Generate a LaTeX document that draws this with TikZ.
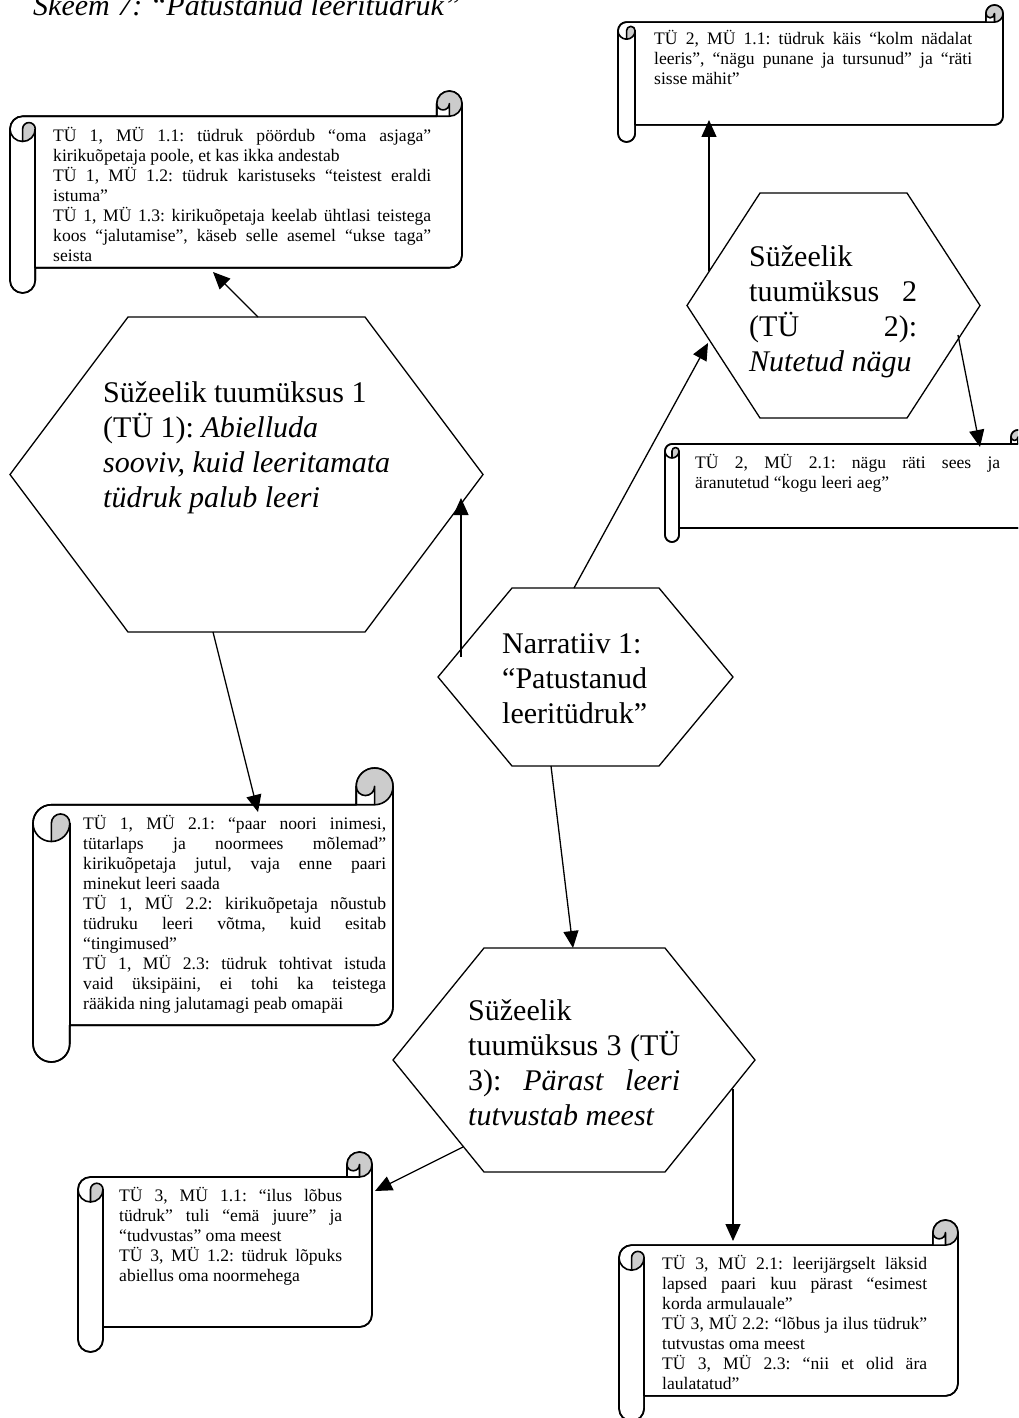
\documentclass[tikz,border=0pt]{standalone}
\usepackage{fontspec}
\setmainfont{Liberation Serif}
\usetikzlibrary{arrows.meta}
\definecolor{curlgray}{RGB}{204,204,204}
\hyphenpenalty=10000
\exhyphenpenalty=10000
\frenchspacing

% Horizontal scroll: #1 left, #2 top, #3 right, #4 bottom (y measured downwards), #5 curl size
\newcommand{\hscroll}[5]{%
  \pgfmathsetmacro{\sL}{#1}\pgfmathsetmacro{\sT}{-(#2)}%
  \pgfmathsetmacro{\sR}{#3}\pgfmathsetmacro{\sB}{-(#4)}%
  \pgfmathsetmacro{\sc}{#5}\pgfmathsetmacro{\sh}{(#5)/2}\pgfmathsetmacro{\sq}{(#5)/4}%
  % sheet, left roll and top of the right curl
  \filldraw[scrollline,fill=white]
    (\sL,\sT-1.5*\sc) arc[start angle=180,end angle=90,radius=\sh pt]
    -- (\sR-\sc,\sT-\sc) -- (\sR-\sc,\sT-\sh) arc[start angle=180,end angle=0,radius=\sh pt]
    -- (\sR,\sB+1.5*\sc) arc[start angle=0,end angle=-90,radius=\sh pt]
    -- (\sL+\sc,\sB+\sc) -- (\sL+\sc,\sB+\sh) arc[start angle=0,end angle=-180,radius=\sh pt]
    -- cycle;
  % shaded insides of the two curls
  \fill[curlgray] (\sL+\sh,\sT-2*\sc) arc[start angle=-90,end angle=0,radius=\sh pt]
    arc[start angle=0,end angle=180,radius=\sq pt] -- cycle;
  \fill[curlgray] (\sR-\sh,\sT-\sc) arc[start angle=-90,end angle=180,radius=\sh pt]
    arc[start angle=180,end angle=360,radius=\sq pt] -- cycle;
  % outline and curl details
  \draw[scrollline]
    (\sL,\sT-1.5*\sc) arc[start angle=180,end angle=90,radius=\sh pt]
    -- (\sR-\sc,\sT-\sc) -- (\sR-\sc,\sT-\sh) arc[start angle=180,end angle=0,radius=\sh pt]
    -- (\sR,\sB+1.5*\sc) arc[start angle=0,end angle=-90,radius=\sh pt]
    -- (\sL+\sc,\sB+\sc) -- (\sL+\sc,\sB+\sh) arc[start angle=0,end angle=-180,radius=\sh pt]
    -- cycle;
  \draw[scrollline] (\sR-\sc,\sT-\sc) -- (\sR-\sh,\sT-\sc) arc[start angle=-90,end angle=0,radius=\sh pt];
  \draw[scrollline] (\sR-\sh,\sT-\sc) -- (\sR-\sh,\sT-\sh) arc[start angle=0,end angle=-180,radius=\sq pt];
  \draw[scrollline] (\sL+\sh,\sT-2*\sc) -- (\sL+\sh,\sT-1.5*\sc)
    arc[start angle=180,end angle=0,radius=\sq pt] arc[start angle=0,end angle=-180,radius=\sh pt];
  \draw[scrollline] (\sL+\sc,\sT-1.5*\sc) -- (\sL+\sc,\sB+\sc);
}

\begin{document}
\begin{tikzpicture}[x=1pt,y=1pt,
  scrollline/.style={line width=1.6pt,line join=round},
  hexline/.style={line width=1.3pt,fill=white},
  conn/.style={line width=1.3pt,-{Triangle[length=17pt,width=15pt]}},
  scrolltext/.style={anchor=base west,inner sep=0pt,align=justify,
    font=\fontsize{17.6}{20}\selectfont},
  hextext/.style={anchor=base west,inner sep=0pt,
    font=\fontsize{30}{35}\selectfont}]

\useasboundingbox (0,0) rectangle (1018,-1418);
\clip (0,0) rectangle (1018,-1418);

% title
\node[anchor=base west,inner sep=0pt,font=\fontsize{30}{35}\selectfont\itshape]
  (title) at (33,-16) {Skeem 7: “Patustanud leeritüdruk”};

% scrolls
\hscroll{10}{91}{462}{293}{25.25}
\hscroll{618}{5}{1003}{142}{17.1}
\hscroll{665}{430}{1025}{542}{14}
\hscroll{33}{768}{393}{1062}{36.75}
\hscroll{78}{1152}{372}{1352}{25}
\hscroll{619}{1220}{958}{1421}{25.1}

\node[scrolltext,text width=378pt] (tA) at (53,-141.5)
  {TÜ 1, MÜ 1.1: tüdruk pöördub “oma asjaga”\linebreak kirikuõpetaja poole, et kas ikka andestab\par
   TÜ 1, MÜ 1.2: tüdruk karistuseks “teistest eraldi\linebreak istuma”\par
   TÜ 1, MÜ 1.3: kirikuõpetaja keelab ühtlasi teistega\linebreak koos “jalutamise”, käseb selle asemel “ukse taga”\linebreak seista};

\node[scrolltext,text width=318pt] (tB) at (654,-45)
  {TÜ 2, MÜ 1.1: tüdruk käis “kolm nädalat\linebreak leeris”, “nägu punane ja tursunud” ja “räti\linebreak sisse mähit”};

\node[scrolltext,text width=305pt] (tC) at (695,-468)
  {TÜ 2, MÜ 2.1: nägu räti sees ja\linebreak äranutetud “kogu leeri aeg”};

\node[scrolltext,text width=303pt] (tD) at (83,-829)
  {TÜ 1, MÜ 2.1: “paar noori inimesi,\linebreak tütarlaps ja noormees mõlemad”\linebreak kirikuõpetaja jutul, vaja enne paari\linebreak minekut leeri saada\par
   TÜ 1, MÜ 2.2: kirikuõpetaja nõustub\linebreak tüdruku leeri võtma, kuid esitab\linebreak “tingimused”\par
   TÜ 1, MÜ 2.3: tüdruk tohtivat istuda\linebreak vaid üksipäini, ei tohi ka teistega\linebreak rääkida ning jalutamagi peab omapäi};

\node[scrolltext,text width=223pt] (tE) at (119,-1201)
  {TÜ 3, MÜ 1.1: “ilus lõbus\linebreak tüdruk” tuli “emä juure” ja\linebreak “tudvustas” oma meest\par
   TÜ 3, MÜ 1.2: tüdruk lõpuks\linebreak abiellus oma noormehega};

\node[scrolltext,text width=265pt] (tF) at (662,-1269)
  {TÜ 3, MÜ 2.1: leerijärgselt läksid\linebreak lapsed paari kuu pärast “esimest\linebreak korda armulauale”\par
   TÜ 3, MÜ 2.2: “lõbus ja ilus tüdruk”\linebreak tutvustas oma meest\par
   TÜ 3, MÜ 2.3: “nii et olid ära\linebreak laulatatud”};

% hexagons
\draw[hexline] (10,-474.5) -- (128,-317) -- (365,-317) -- (483,-474.5) -- (365,-632) -- (128,-632) -- cycle;
\draw[hexline] (687,-305.5) -- (760,-193) -- (907,-193) -- (980,-305.5) -- (907,-418) -- (760,-418) -- cycle;
\draw[hexline] (393,-1060) -- (484,-948) -- (665,-948) -- (755,-1060) -- (665,-1172) -- (484,-1172) -- cycle;
\draw[hexline] (438,-677) -- (512,-588) -- (659,-588) -- (733,-677) -- (659,-766) -- (512,-766) -- cycle;

\node[hextext,text width=300pt,align=justify] (tH1) at (103,-402)
  {Süžeelik tuumüksus 1\par (TÜ 1): \textit{Abielluda}\par \textit{sooviv, kuid leeritamata}\par \textit{tüdruk palub leeri}};
\node[hextext,text width=168pt,align=justify] (tH2) at (749,-266)
  {Süžeelik\linebreak tuumüksus 2\linebreak (TÜ 2):\linebreak \textit{Nutetud nägu}};
\node[hextext,text width=212pt,align=justify] (tH3) at (468,-1020)
  {Süžeelik\linebreak tuumüksus 3 (TÜ\linebreak 3): \textit{Pärast leeri}\linebreak \textit{tutvustab meest}};
\node[hextext,text width=200pt,align=justify] (tN) at (502,-653)
  {Narratiiv 1:\par “Patustanud\par leeritüdruk”};

% connector end points on the shape borders
\coordinate (h1top)  at (258,-317);
\coordinate (sAbot)  at (213,-272);
\coordinate (nleft)  at (461,-657);
\coordinate (h1right) at (461,-498);
\coordinate (ntop)   at (574,-588);
\coordinate (h2left) at (708,-343);
\coordinate (h2top)  at (709,-271);
\coordinate (sBbot)  at (709,-120);
\coordinate (h2right) at (958,-335);
\coordinate (sCtop)  at (980,-447);
\coordinate (nbot)   at (551,-766);
\coordinate (h3top)  at (573,-948);
\coordinate (h1bot)  at (213,-632);
\coordinate (sDtop)  at (258,-812);
\coordinate (h3left) at (463,-1147);
\coordinate (sEright) at (375,-1191);
\coordinate (h3right) at (733,-1089);
\coordinate (sFtop)  at (733,-1241);

% connectors
\draw[conn] (h1top) -- (sAbot);
\draw[conn] (nleft) -- (h1right);
\draw[conn] (ntop) -- (h2left);
\draw[conn] (h2top) -- (sBbot);
\draw[conn] (h2right) -- (sCtop);
\draw[conn] (nbot) -- (h3top);
\draw[conn] (h1bot) -- (sDtop);
\draw[conn] (h3left) -- (sEright);
\draw[conn] (h3right) -- (sFtop);
\end{tikzpicture}
\end{document}
